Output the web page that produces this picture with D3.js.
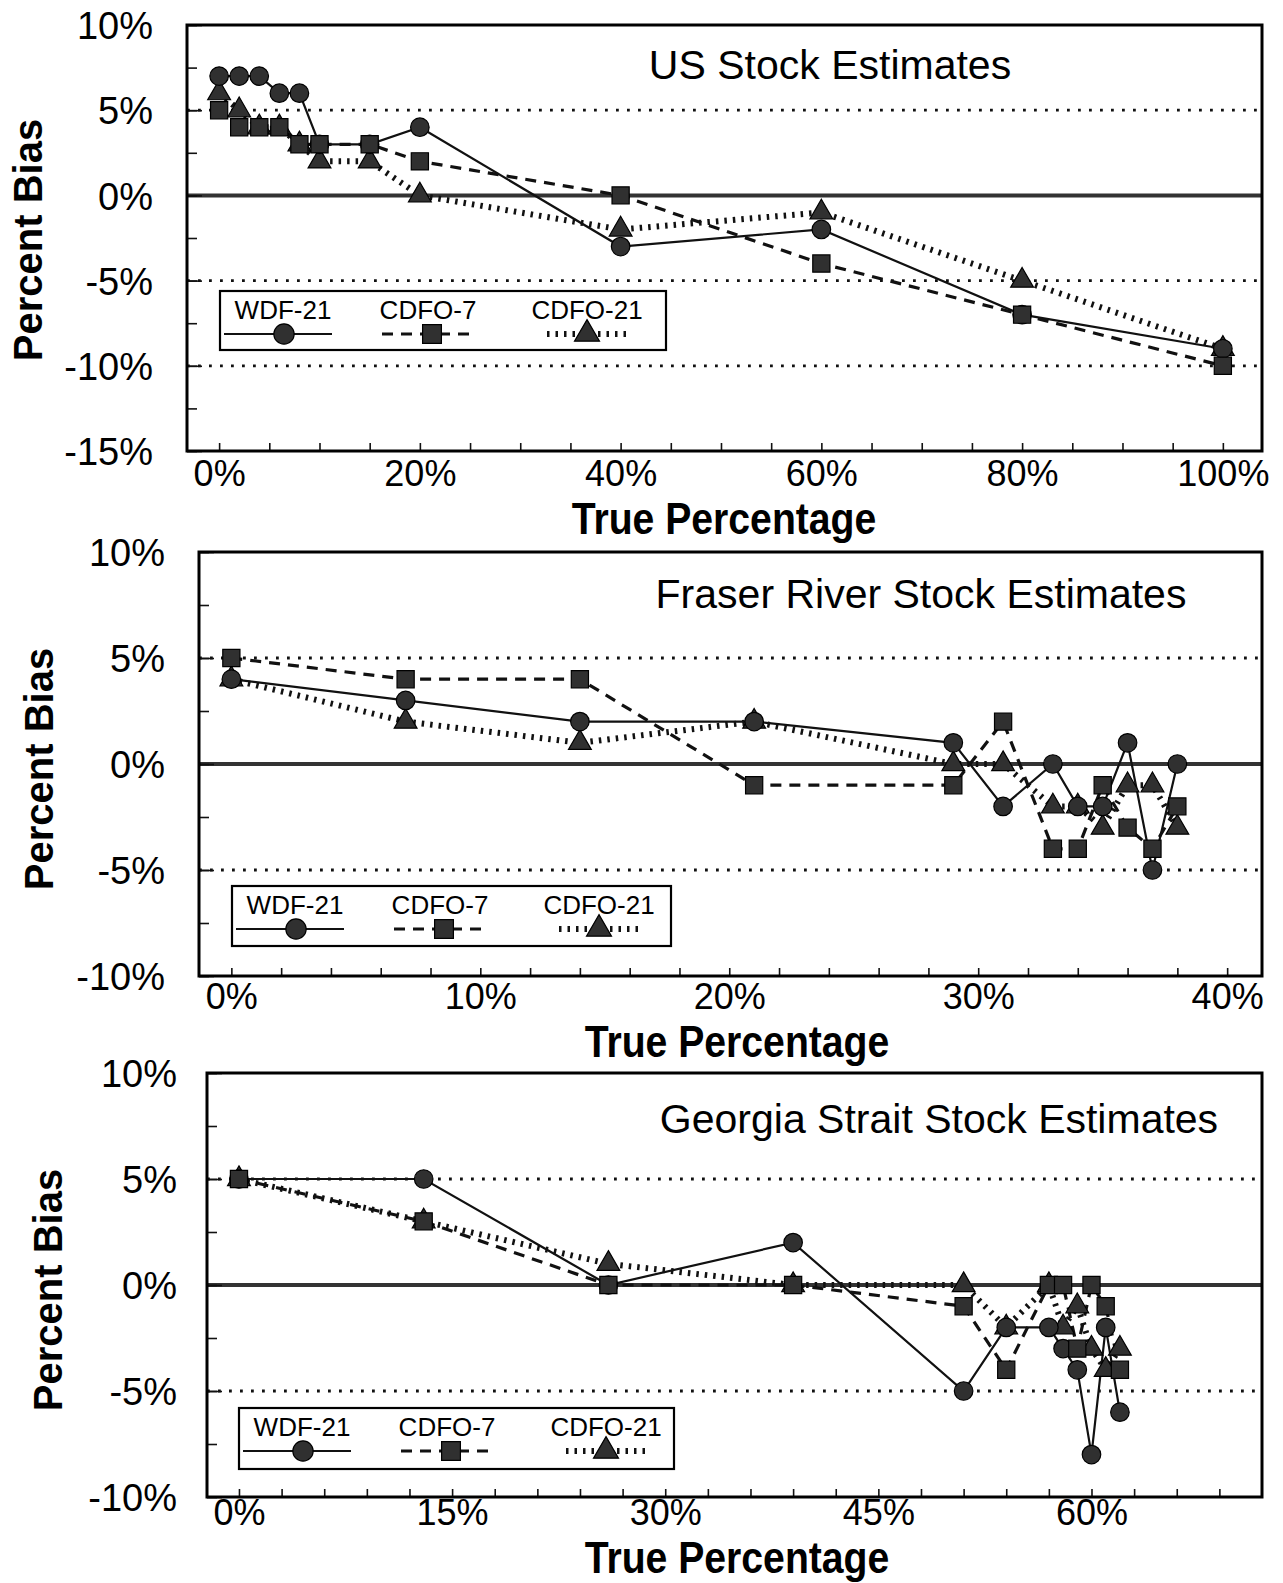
<!DOCTYPE html>
<html>
<head>
<meta charset="utf-8">
<script src="https://cdn.jsdelivr.net/npm/d3@7"></script>
<style>
  body { margin: 0; background: #fff; }
  svg { display: block; }
</style>
</head>
<body>
<svg id="chart" width="1283" height="1583"></svg>
<script>
// Percent bias of three stock-composition estimators against the true percentage

const seriesNames = ["WDF-21", "CDFO-7", "CDFO-21"];

// US stock
const usTrue   = [0, 2, 4, 6, 8, 10, 15, 20, 40, 60, 80, 100];
const usWDF21  = [7, 7, 7, 6, 6, 3, 3, 4, -3, -2, -7, -9];
const usCDFO7  = [5, 4, 4, 4, 3, 3, 3, 2, 0, -4, -7, -10];
const usCDFO21 = [6, 5, 4, 4, 3, 2, 2, 0, -2, -1, -5, -9];
const usXTicks = [0, 20, 40, 60, 80, 100];
const usYTicks = [10, 5, 0, -5, -10, -15];
const usGuides = [5, -5, -10];

// Fraser River stock
const fraserTrue   = [0, 7, 14, 21, 29, 31, 33, 34, 35, 36, 37, 38];
const fraserWDF21  = [4, 3, 2, 2, 1, -2, 0, -2, -2, 1, -5, 0];
const fraserCDFO7  = [5, 4, 4, -1, -1, 2, -4, -4, -1, -3, -4, -2];
const fraserCDFO21 = [4, 2, 1, 2, 0, 0, -2, -2, -3, -1, -1, -3];
const fraserXTicks = [0, 10, 20, 30, 40];
const fraserYTicks = [10, 5, 0, -5, -10];
const fraserGuides = [5, -5];

// Georgia Strait stock
const georgiaTrue   = [0, 13, 26, 39, 51, 54, 57, 58, 59, 60, 61, 62];
const georgiaWDF21  = [5, 5, 0, 2, -5, -2, -2, -3, -4, -8, -2, -6];
const georgiaCDFO7  = [5, 3, 0, 0, -1, -4, 0, 0, -3, 0, -1, -4];
const georgiaCDFO21 = [5, 3, 1, 0, 0, -2, 0, -2, -1, -3, -4, -3];
const georgiaXTicks = [0, 15, 30, 45, 60];
const georgiaYTicks = [10, 5, 0, -5, -10];
const georgiaGuides = [5, -5];

const FONT = "'Liberation Sans', Arial, Helvetica, sans-serif";
const INK = "#111";
const MARK_FILL = "#303030";

// line + marker style per series (WDF-21, CDFO-7, CDFO-21)
const styles = [
  { width: 2.2, dash: null,      symbol: d3.symbolCircle,   size: 270 },
  { width: 3.2, dash: "11 8",    symbol: d3.symbolSquare,   size: 295 },
  { width: 6,   dash: "2.5 6",   symbol: d3.symbolTriangle, size: 225 }
];
// drawing order: CDFO-21 first, then WDF-21, with CDFO-7 on top
const drawOrder = [2, 0, 1];

const panels = [
  {
    title: "US Stock Estimates", xs: usTrue, ys: [usWDF21, usCDFO7, usCDFO21],
    xTicks: usXTicks, yTicks: usYTicks, guides: usGuides,
    box: { l: 187, r: 1262, t: 25, b: 451 },
    xDomain: [-3.2, 103.9], yDomain: [-15, 10], xMinor: 5,
    yLabelRight: 153, xLabelBase: 486, xTitle: { x: 724, y: 534 },
    yTitle: { x: 28, y: 240 }, titlePos: { x: 830, y: 79 },
    legend: { x: 220, y: 291, w: 446, h: 59 }
  },
  {
    title: "Fraser River Stock Estimates", xs: fraserTrue, ys: [fraserWDF21, fraserCDFO7, fraserCDFO21],
    xTicks: fraserXTicks, yTicks: fraserYTicks, guides: fraserGuides,
    box: { l: 199, r: 1262, t: 552, b: 976 },
    xDomain: [-1.3, 41.4], yDomain: [-10, 10], xMinor: 2,
    yLabelRight: 165, xLabelBase: 1009, xTitle: { x: 737, y: 1057 },
    yTitle: { x: 39, y: 769 }, titlePos: { x: 921, y: 608 },
    legend: { x: 232, y: 886, w: 439, h: 60 }
  },
  {
    title: "Georgia Strait Stock Estimates", xs: georgiaTrue, ys: [georgiaWDF21, georgiaCDFO7, georgiaCDFO21],
    xTicks: georgiaXTicks, yTicks: georgiaYTicks, guides: georgiaGuides,
    box: { l: 207, r: 1262, t: 1073, b: 1497 },
    xDomain: [-2.25, 72], yDomain: [-10, 10], xMinor: 3,
    yLabelRight: 177, xLabelBase: 1525, xTitle: { x: 737, y: 1573 },
    yTitle: { x: 48, y: 1290 }, titlePos: { x: 939, y: 1133 },
    legend: { x: 239, y: 1408, w: 435, h: 61 }
  }
];

const svg = d3.select("#chart");

function drawPanel(p) {
  const g = svg.append("g");
  const x = d3.scaleLinear().domain(p.xDomain).range([p.box.l, p.box.r]);
  const y = d3.scaleLinear().domain(p.yDomain).range([p.box.b, p.box.t]);

  // dotted guide lines
  g.selectAll("line.guide").data(p.guides).join("line")
    .attr("class", "guide")
    .attr("x1", p.box.l).attr("x2", p.box.r)
    .attr("y1", d => y(d)).attr("y2", d => y(d))
    .attr("stroke", INK).attr("stroke-width", 2.8)
    .attr("stroke-dasharray", "2.8 8.2");

  // zero line
  g.append("line")
    .attr("x1", p.box.l).attr("x2", p.box.r)
    .attr("y1", y(0)).attr("y2", y(0))
    .attr("stroke", "#333").attr("stroke-width", 4);

  // inward y ticks: minor at half steps, major at labelled values
  const yMinorVals = d3.range(p.yDomain[0], p.yDomain[1] + 0.01, 2.5);
  const yMinorAxis = g.append("g").attr("transform", `translate(${p.box.l},0)`)
    .call(d3.axisRight(y).tickValues(yMinorVals).tickSize(10).tickFormat(""));
  yMinorAxis.select(".domain").remove();
  yMinorAxis.selectAll("line").attr("stroke", INK).attr("stroke-width", 1.6);
  const yMajorAxis = g.append("g").attr("transform", `translate(${p.box.l},0)`)
    .call(d3.axisRight(y).tickValues(p.yTicks).tickSize(15).tickFormat(""));
  yMajorAxis.select(".domain").remove();
  yMajorAxis.selectAll("line").attr("stroke", INK).attr("stroke-width", 1.6);

  // y tick labels
  const yLab = g.append("g").attr("transform", `translate(${p.box.l},0)`)
    .call(d3.axisLeft(y).tickValues(p.yTicks).tickSize(0)
      .tickPadding(p.box.l - p.yLabelRight).tickFormat(d => d + "%"));
  yLab.select(".domain").remove();
  yLab.selectAll("text").attr("font-family", FONT).attr("font-size", 38)
    .attr("fill", "#000").attr("dy", "0.36em");

  // inward x ticks
  const xMinorVals = d3.range(0, p.xDomain[1], p.xMinor);
  const xMinorAxis = g.append("g").attr("transform", `translate(0,${p.box.b})`)
    .call(d3.axisTop(x).tickValues(xMinorVals).tickSize(8).tickFormat(""));
  xMinorAxis.select(".domain").remove();
  xMinorAxis.selectAll("line").attr("stroke", INK).attr("stroke-width", 1.6);

  // x tick labels
  const xLab = g.append("g").attr("transform", `translate(0,${p.box.b})`)
    .call(d3.axisBottom(x).tickValues(p.xTicks).tickSize(0).tickFormat(d => d + "%"));
  xLab.select(".domain").remove();
  xLab.selectAll("text").attr("font-family", FONT).attr("font-size", 36)
    .attr("fill", "#000").attr("dy", null).attr("y", p.xLabelBase - p.box.b);

  // frame
  g.append("rect")
    .attr("x", p.box.l).attr("y", p.box.t)
    .attr("width", p.box.r - p.box.l).attr("height", p.box.b - p.box.t)
    .attr("fill", "none").attr("stroke", "#000").attr("stroke-width", 3);

  // series lines
  const line = d3.line().x(d => x(d[0])).y(d => y(d[1]));
  drawOrder.forEach(i => {
    const pts = p.xs.map((v, k) => [v, p.ys[i][k]]);
    g.append("path").datum(pts)
      .attr("d", line)
      .attr("fill", "none").attr("stroke", INK)
      .attr("stroke-width", styles[i].width)
      .attr("stroke-dasharray", styles[i].dash);
  });
  // series markers
  drawOrder.forEach(i => {
    const pts = p.xs.map((v, k) => [v, p.ys[i][k]]);
    g.selectAll(null).data(pts).join("path")
      .attr("transform", d => `translate(${x(d[0])},${y(d[1])})`)
      .attr("d", d3.symbol().type(styles[i].symbol).size(styles[i].size))
      .attr("fill", MARK_FILL).attr("stroke", "#000").attr("stroke-width", 1.2);
  });

  // titles
  g.append("text").attr("x", p.titlePos.x).attr("y", p.titlePos.y)
    .attr("text-anchor", "middle").attr("font-family", FONT)
    .attr("font-size", 41).attr("fill", "#000").text(p.title);

  g.append("text")
    .attr("transform", `translate(${p.xTitle.x},${p.xTitle.y}) scale(0.89,1)`)
    .attr("text-anchor", "middle").attr("font-family", FONT)
    .attr("font-weight", "bold").attr("font-size", 44).attr("fill", "#000")
    .text("True Percentage");

  g.append("text")
    .attr("transform", `translate(${p.yTitle.x},${p.yTitle.y}) rotate(-90)`)
    .attr("text-anchor", "middle").attr("dy", "0.36em").attr("font-family", FONT)
    .attr("font-weight", "bold").attr("font-size", 40).attr("fill", "#000")
    .text("Percent Bias");

  // legend
  const L = p.legend;
  const lg = g.append("g").attr("transform", `translate(${L.x},${L.y})`);
  lg.append("rect").attr("width", L.w).attr("height", L.h)
    .attr("fill", "#fff").attr("stroke", "#000").attr("stroke-width", 2.2);
  const slots = [
    { text: 63,  x1: 4,   x2: 112, mark: 64 },
    { text: 208, x1: 162, x2: 254, mark: 212 },
    { text: 367, x1: 327, x2: 407, mark: 367 }
  ];
  seriesNames.forEach((name, i) => {
    const s = slots[i];
    lg.append("text").attr("x", s.text).attr("y", 28)
      .attr("text-anchor", "middle").attr("font-family", FONT)
      .attr("font-size", 26).attr("fill", "#000").text(name);
    lg.append("line").attr("x1", s.x1).attr("x2", s.x2).attr("y1", 43).attr("y2", 43)
      .attr("stroke", INK).attr("stroke-width", styles[i].width)
      .attr("stroke-dasharray", styles[i].dash);
    lg.append("path").attr("transform", `translate(${s.mark},43)`)
      .attr("d", d3.symbol().type(styles[i].symbol).size(styles[i].size * 1.2))
      .attr("fill", MARK_FILL).attr("stroke", "#000").attr("stroke-width", 1.2);
  });
}

panels.forEach(drawPanel);
</script>
</body>
</html>
